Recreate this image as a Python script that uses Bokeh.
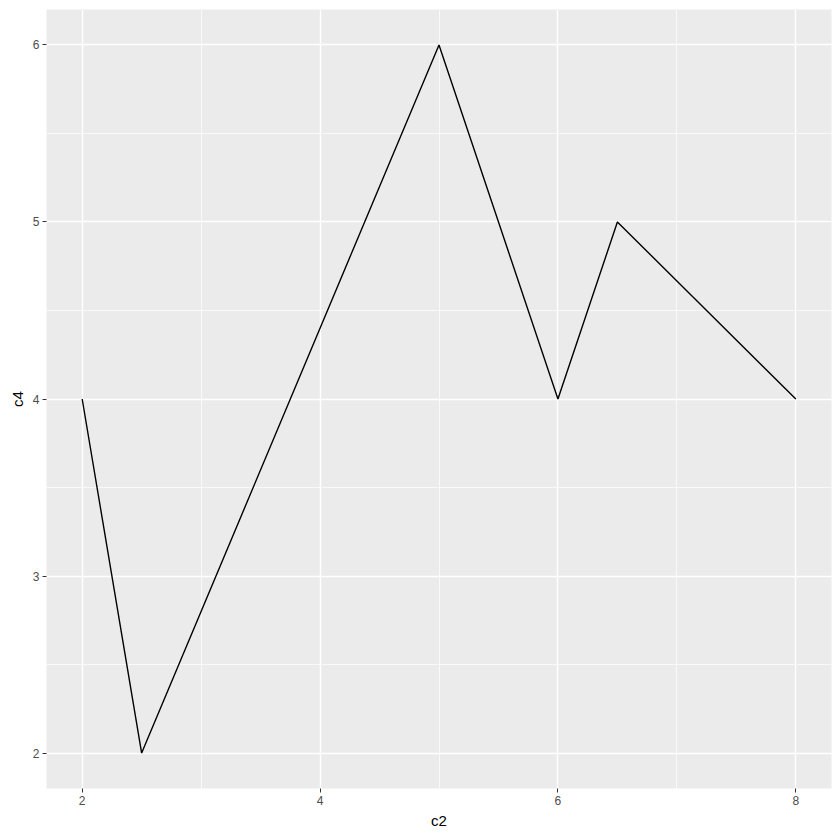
from bokeh.plotting import figure
from bokeh.models import FixedTicker, Range1d
from bokeh.embed import file_html
from bokeh.resources import INLINE

c2 = [2, 2.5, 5, 6, 6.5, 8]
c4 = [4, 2, 6, 4, 5, 4]
x_ticks = [2, 4, 6, 8]
x_minor = [3, 5, 7]
y_ticks = [2, 3, 4, 5, 6]
y_minor = [2.5, 3.5, 4.5, 5.5]

p = figure(output_backend="svg", toolbar_location=None,
           frame_width=785, frame_height=779,
           min_border_left=46, min_border_right=1, min_border_top=9, min_border_bottom=44,
           x_range=Range1d(1.7, 8.3), y_range=Range1d(1.8, 6.2))
p.background_fill_color = "#EBEBEB"
p.border_fill_color = "white"
p.outline_line_color = None

p.line(c2, c4, line_color="black", line_width=1.4)

p.xaxis.ticker = FixedTicker(ticks=x_ticks, minor_ticks=x_minor)
p.yaxis.ticker = FixedTicker(ticks=y_ticks, minor_ticks=y_minor)
p.xaxis.axis_label = "c2"
p.yaxis.axis_label = "c4"

for ax in (p.xaxis, p.yaxis):
    ax.axis_line_color = None
    ax.major_tick_line_color = "#333333"
    ax.major_tick_line_width = 1
    ax.major_tick_in = 0
    ax.major_tick_out = 4
    ax.minor_tick_line_color = None
    ax.major_label_text_color = "#4D4D4D"
    ax.major_label_text_font = "Liberation Sans"
    ax.major_label_text_font_size = "12px"
    ax.major_label_standoff = 3
    ax.axis_label_text_font = "Liberation Sans"
    ax.axis_label_text_font_size = "15px"
    ax.axis_label_text_font_style = "normal"
    ax.axis_label_text_color = "black"
    ax.axis_label_standoff = 4

for g in (p.xgrid, p.ygrid):
    g.grid_line_color = "white"
    g.grid_line_width = 1.4
    g.minor_grid_line_color = "white"
    g.minor_grid_line_width = 0.7

open("out.html", "w").write(file_html(p, INLINE))
